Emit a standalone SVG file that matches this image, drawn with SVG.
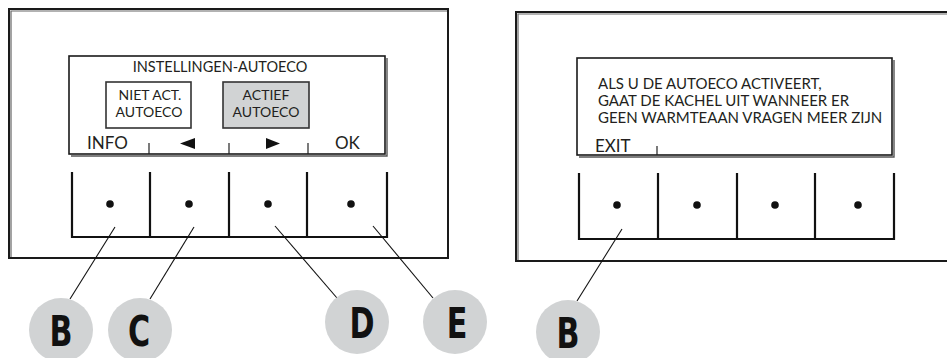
<svg xmlns="http://www.w3.org/2000/svg" width="947" height="358" viewBox="0 0 947 358">
<style>
.frame{fill:#fff;stroke:#1a1a1a;stroke-width:2}
.frameshadow{fill:none;stroke:#666;stroke-width:1.2}
.screen{fill:#fff;stroke:#1a1a1a;stroke-width:1.6}
.scrshadow{fill:none;stroke:#555;stroke-width:1.4}
.btn{fill:none;stroke:#111;stroke-width:2.2}
.dot{fill:#111}
.tick{stroke:#222;stroke-width:1.2}
.lead{stroke:#111;stroke-width:1.1;fill:none}
.t{font-family:Lato,"Open Sans","Liberation Sans",sans-serif;fill:#231f20}
.sel{fill:#d1d3d4;stroke:#333;stroke-width:1.6}
.opt{fill:#fff;stroke:#333;stroke-width:1.6}
.bub{fill:#d1d3d4}
.lbl{font-family:"Liberation Sans Narrow","DejaVu Sans Condensed","Liberation Sans",sans-serif;font-weight:bold;font-size:43px;fill:#111;text-anchor:middle}
</style>
<defs/>
<g id="panel-left">
  <rect class="frame" x="9" y="9" width="439" height="249"/>
  <polyline class="frameshadow" points="11,257 11,11 447,11"/>
  <g id="screen-left">
    <polyline class="scrshadow" points="387,58 387,156 71,156"/>
    <rect class="screen" x="69" y="56" width="316" height="98"/>
    <text class="t" x="220" y="72" font-size="14.5" text-anchor="middle">INSTELLINGEN-AUTOECO</text>
    <g id="opt-niet">
      <rect class="opt" x="106" y="82" width="85" height="46"/>
      <text class="t" x="150" y="100" font-size="14" text-anchor="middle">NIET ACT.</text>
      <text class="t" x="149" y="117" font-size="14" text-anchor="middle">AUTOECO</text>
    </g>
    <g id="opt-actief">
      <rect class="sel" x="223" y="82" width="86" height="46"/>
      <text class="t" x="266" y="100" font-size="14" text-anchor="middle">ACTIEF</text>
      <text class="t" x="266" y="117" font-size="14" text-anchor="middle">AUTOECO</text>
    </g>
    <text class="t" x="87" y="149" font-size="17">INFO</text>
    <polygon class="dot" points="180,143.5 195,138 195,149"/>
    <polygon class="dot" points="266,138 266,149 280,143.5"/>
    <text class="t" x="335" y="149" font-size="17">OK</text>
    <line class="tick" x1="149" y1="143" x2="149" y2="154"/>
    <line class="tick" x1="229" y1="143" x2="229" y2="154"/>
    <line class="tick" x1="308" y1="143" x2="308" y2="154"/>
  </g>
  <g id="buttons-left">
    <polyline class="btn" points="72,172 72,237 387,237 387,172"/>
    <line class="btn" x1="150" y1="172" x2="150" y2="237"/>
    <line class="btn" x1="229" y1="172" x2="229" y2="237"/>
    <line class="btn" x1="307" y1="172" x2="307" y2="237"/>
    <circle class="dot" cx="110" cy="204" r="3.8"/>
    <circle class="dot" cx="189" cy="204" r="3.8"/>
    <circle class="dot" cx="268" cy="204" r="3.8"/>
    <circle class="dot" cx="351" cy="204" r="3.8"/>
  </g>
</g>
<g id="panel-right">
  <rect class="frame" x="516" y="12" width="440" height="249"/>
  <polyline class="frameshadow" points="518,260 518,14 947,14"/>
  <g id="screen-right">
    <polyline class="scrshadow" points="894,60 894,157 579,157"/>
    <rect class="screen" x="577" y="58" width="315" height="97"/>
    <text class="t" x="598" y="89" font-size="15">ALS U DE AUTOECO ACTIVEERT,</text>
    <text class="t" x="598" y="106" font-size="15">GAAT DE KACHEL UIT WANNEER ER</text>
    <text class="t" x="598" y="123" font-size="15">GEEN WARMTEAAN VRAGEN MEER ZIJN</text>
    <text class="t" x="595" y="152" font-size="17">EXIT</text>
    <line class="tick" x1="657" y1="146" x2="657" y2="155"/>
  </g>
  <g id="buttons-right">
    <polyline class="btn" points="579,173 579,239 894,239 894,173"/>
    <line class="btn" x1="658" y1="173" x2="658" y2="239"/>
    <line class="btn" x1="737" y1="173" x2="737" y2="239"/>
    <line class="btn" x1="815" y1="173" x2="815" y2="239"/>
    <circle class="dot" cx="617" cy="205" r="3.8"/>
    <circle class="dot" cx="697" cy="205" r="3.8"/>
    <circle class="dot" cx="775" cy="205" r="3.8"/>
    <circle class="dot" cx="858" cy="205" r="3.8"/>
  </g>
</g>
<g id="connectors">
  <line class="lead" x1="115" y1="227" x2="70" y2="299"/>
  <line class="lead" x1="194" y1="227" x2="150" y2="299"/>
  <line class="lead" x1="275" y1="226" x2="337" y2="298"/>
  <line class="lead" x1="373" y1="226" x2="433" y2="298"/>
  <line class="lead" x1="622" y1="229" x2="577" y2="301"/>
</g>
<g id="label-B1"><circle class="bub" cx="61" cy="330" r="32"/><text class="lbl" transform="translate(61,346) scale(0.78,1)">B</text></g>
<g id="label-C"><circle class="bub" cx="140" cy="330" r="32"/><text class="lbl" transform="translate(139,346) scale(0.78,1)">C</text></g>
<g id="label-D"><circle class="bub" cx="357" cy="322" r="32"/><text class="lbl" transform="translate(362,338) scale(0.78,1)">D</text></g>
<g id="label-E"><circle class="bub" cx="455" cy="322" r="32"/><text class="lbl" transform="translate(457,338) scale(0.78,1)">E</text></g>
<g id="label-B2"><circle class="bub" cx="568" cy="332" r="32"/><text class="lbl" transform="translate(568,348) scale(0.78,1)">B</text></g>
</svg>
